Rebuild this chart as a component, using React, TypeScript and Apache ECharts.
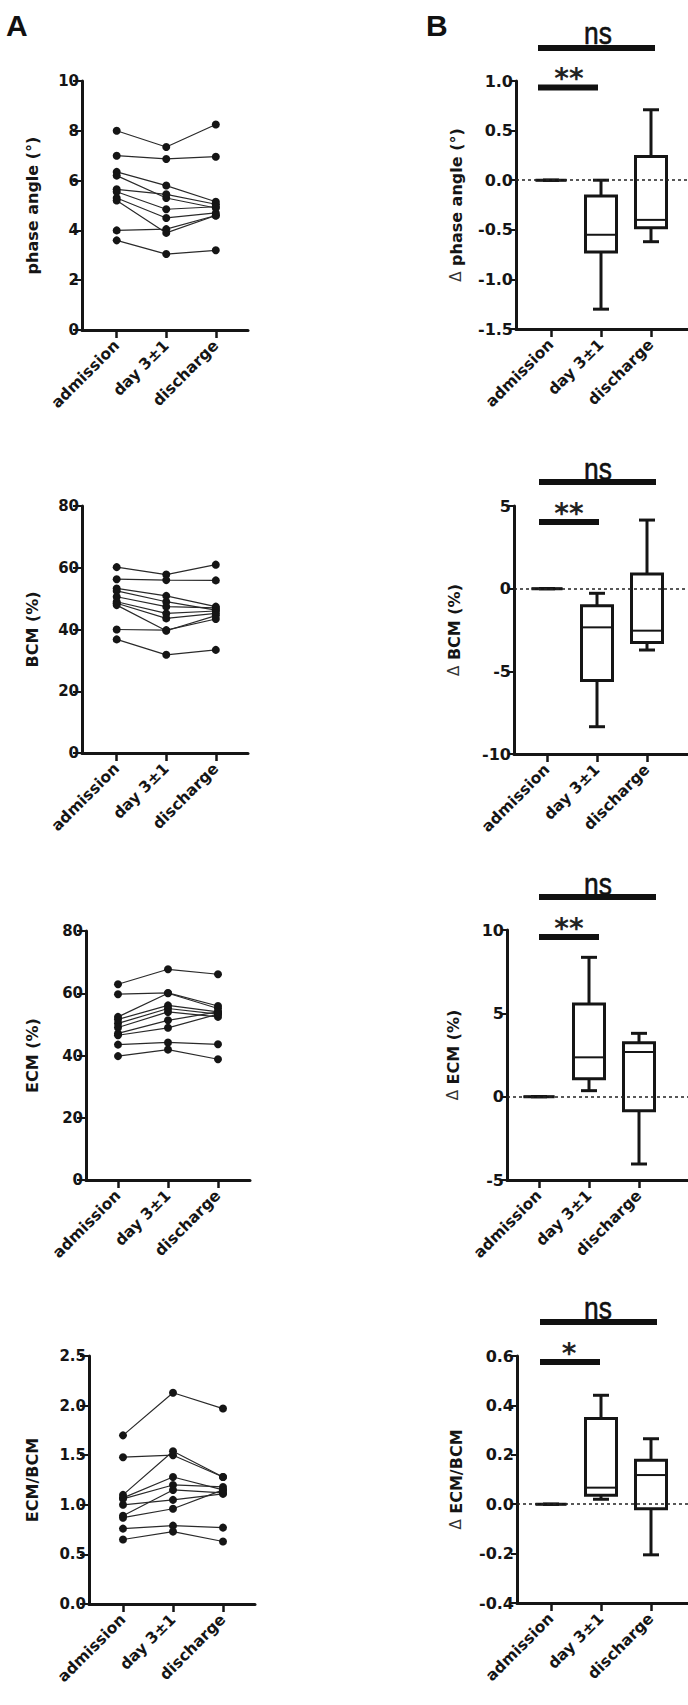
import React, { useEffect, useRef } from "react";
import * as echarts from "echarts";

// ---------- data ----------
const categories = ["admission", "day 3±1", "discharge"];

// Panel A: individual patients (10)
const phaseAdmission = [8.0, 7.0, 6.35, 6.2, 5.65, 5.55, 5.3, 5.2, 4.0, 3.6];
const phaseDay3 = [7.35, 6.87, 5.8, 5.3, 5.45, 4.85, 4.5, 3.9, 4.05, 3.05];
const phaseDischarge = [8.25, 6.96, 5.15, 4.9, 5.05, 4.95, 4.7, 4.6, 4.6, 3.2];

const bcmAdmission = [60.2, 56.3, 53.3, 52.5, 50.6, 49.0, 48.5, 47.9, 40.0, 36.8];
const bcmDay3 = [57.8, 56.0, 50.9, 49.0, 47.4, 45.2, 43.6, 39.6, 39.8, 31.8];
const bcmDischarge = [61.0, 55.9, 47.4, 46.3, 47.0, 46.0, 45.2, 44.5, 43.4, 33.4];

const ecmAdmission = [62.9, 59.7, 52.4, 51.6, 50.3, 49.0, 47.1, 46.5, 43.5, 39.8];
const ecmDay3 = [67.7, 60.1, 60.0, 56.1, 55.1, 54.0, 51.3, 48.9, 44.2, 41.9];
const ecmDischarge = [66.1, 55.9, 55.1, 54.0, 53.3, 52.4, 54.0, 53.3, 43.6, 38.8];

const ratioAdmission = [1.7, 1.48, 1.1, 1.07, 1.06, 1.0, 0.89, 0.87, 0.76, 0.65];
const ratioDay3 = [2.13, 1.5, 1.54, 1.28, 1.2, 1.05, 1.15, 0.96, 0.79, 0.73];
const ratioDischarge = [1.97, 1.28, 1.28, 1.15, 1.18, 1.11, 1.12, 1.15, 0.77, 0.63];

// Panel B: box plots [min, Q1, median, Q3, max]
const dPhaseAdmission = [0, 0, 0, 0, 0];
const dPhaseDay3 = [-1.3, -0.725, -0.55, -0.16, 0.0];
const dPhaseDischarge = [-0.62, -0.48, -0.4, 0.24, 0.71];

const dBcmAdmission = [0, 0, 0, 0, 0];
const dBcmDay3 = [-8.35, -5.56, -2.34, -1.03, -0.28];
const dBcmDischarge = [-3.71, -3.25, -2.54, 0.89, 4.15];

const dEcmAdmission = [0, 0, 0, 0, 0];
const dEcmDay3 = [0.36, 1.08, 2.36, 5.56, 8.36];
const dEcmDischarge = [-4.04, -0.84, 2.68, 3.24, 3.8];

const dRatioAdmission = [0, 0, 0, 0, 0];
const dRatioDay3 = [0.02, 0.036, 0.067, 0.347, 0.441];
const dRatioDischarge = [-0.205, -0.018, 0.118, 0.178, 0.265];

const sigLabels = ["**", "**", "**", "*"];
const nsLabel = "ns";

// ---------- layout ----------
const FONT = "'DejaVu Sans', sans-serif";
const ARIAL = "'Liberation Sans', Arial, sans-serif";
const INK = "#151515";

type Panel = {
  grid: { left: number; top: number; width: number; height: number };
  xMin: number;
  xMax: number;
  yMin: number;
  yMax: number;
  yInt: number;
  dec: number;
  name: string;
  gap: number;
  tickFont: number;
  tickLen: number;
};

const panelsA: Panel[] = [
  { grid: { left: 82, top: 81, width: 166, height: 249 }, xMin: -0.7, xMax: 2.65, yMin: 0, yMax: 10, yInt: 2, dec: 0, name: "phase angle (°)", gap: 42, tickFont: 15, tickLen: 9 },
  { grid: { left: 82, top: 506, width: 166, height: 247 }, xMin: -0.7, xMax: 2.65, yMin: 0, yMax: 80, yInt: 20, dec: 0, name: "BCM (%)", gap: 42, tickFont: 15, tickLen: 9 },
  { grid: { left: 86, top: 931, width: 164, height: 249 }, xMin: -0.64, xMax: 2.64, yMin: 0, yMax: 80, yInt: 20, dec: 0, name: "ECM (%)", gap: 46, tickFont: 15, tickLen: 9 },
  { grid: { left: 89, top: 1356, width: 166, height: 248 }, xMin: -0.68, xMax: 2.64, yMin: 0, yMax: 2.5, yInt: 0.5, dec: 1, name: "ECM/BCM", gap: 49, tickFont: 15, tickLen: 9 },
];
const panelsB: Panel[] = [
  { grid: { left: 516, top: 81, width: 172, height: 248 }, xMin: -0.7, xMax: 2.74, yMin: -1.5, yMax: 1.0, yInt: 0.5, dec: 1, name: "{d|Δ} phase angle (°)", gap: 52, tickFont: 16, tickLen: 6 },
  { grid: { left: 514, top: 506, width: 174, height: 248 }, xMin: -0.66, xMax: 2.82, yMin: -10, yMax: 5, yInt: 5, dec: 0, name: "{d|Δ} BCM (%)", gap: 52, tickFont: 16, tickLen: 6 },
  { grid: { left: 507, top: 930, width: 181, height: 250 }, xMin: -0.64, xMax: 2.98, yMin: -5, yMax: 10, yInt: 5, dec: 0, name: "{d|Δ} ECM (%)", gap: 46, tickFont: 16, tickLen: 6 },
  { grid: { left: 517, top: 1356, width: 171, height: 247 }, xMin: -0.68, xMax: 2.74, yMin: -0.4, yMax: 0.6, yInt: 0.2, dec: 1, name: "{d|Δ} ECM/BCM", gap: 53, tickFont: 16, tickLen: 6 },
];

// significance annotation positions (page pixels)
const sigPos = [
  { nsBarY: 48, nsTextY: 33, starBarY: 87.5, starTextY: 72, x0: 538 },
  { nsBarY: 482, nsTextY: 469, starBarY: 522, starTextY: 507, x0: 539 },
  { nsBarY: 897, nsTextY: 884, starBarY: 937, starTextY: 922, x0: 539 },
  { nsBarY: 1322, nsTextY: 1308, starBarY: 1362, starTextY: 1347, x0: 540 },
];

const seriesA = [
  [phaseAdmission, phaseDay3, phaseDischarge],
  [bcmAdmission, bcmDay3, bcmDischarge],
  [ecmAdmission, ecmDay3, ecmDischarge],
  [ratioAdmission, ratioDay3, ratioDischarge],
];
const seriesB = [
  [dPhaseAdmission, dPhaseDay3, dPhaseDischarge],
  [dBcmAdmission, dBcmDay3, dBcmDischarge],
  [dEcmAdmission, dEcmDay3, dEcmDischarge],
  [dRatioAdmission, dRatioDay3, dRatioDischarge],
];

function buildOption() {
  const panels = [...panelsA, ...panelsB];
  const grid: any[] = [];
  const xAxis: any[] = [];
  const yAxis: any[] = [];
  const series: any[] = [];

  panels.forEach((p, i) => {
    grid.push({ ...p.grid, containLabel: false });
    xAxis.push({
      type: "value",
      gridIndex: i,
      min: p.xMin,
      max: p.xMax,
      axisLine: { show: true, onZero: false, lineStyle: { color: INK, width: 3 } },
      axisTick: { show: true, customValues: [0, 1, 2], length: 8, lineStyle: { color: INK, width: 2.5 } },
      axisLabel: {
        show: true,
        customValues: [0, 1, 2],
        rotate: 45,
        margin: 13,
        formatter: (v: number) => categories[Math.round(v)] ?? "",
        fontFamily: FONT,
        fontWeight: "bold",
        fontSize: 15.5,
        color: INK,
      },
      splitLine: { show: false },
    });
    yAxis.push({
      type: "value",
      gridIndex: i,
      min: p.yMin,
      max: p.yMax,
      interval: p.yInt,
      axisLine: { show: true, onZero: false, lineStyle: { color: INK, width: 3 } },
      axisTick: { show: true, length: p.tickLen, lineStyle: { color: INK, width: 2 } },
      axisLabel: {
        margin: 3,
        fontFamily: FONT,
        fontWeight: "bold",
        fontSize: p.tickFont,
        color: INK,
        formatter: (v: number) => v.toFixed(p.dec),
      },
      splitLine: { show: false },
      name: p.name,
      nameLocation: "middle",
      nameRotate: 90,
      nameGap: p.gap,
      nameTextStyle: {
        fontFamily: FONT,
        fontWeight: "bold",
        fontSize: 16,
        color: INK,
        rich: { d: { fontFamily: FONT, fontWeight: "normal", fontSize: 15, color: "#333" } },
      },
    });
  });

  // Panel A: line per patient
  seriesA.forEach((groups, pi) => {
    const n = groups[0].length;
    for (let s = 0; s < n; s++) {
      series.push({
        type: "line",
        xAxisIndex: pi,
        yAxisIndex: pi,
        data: groups.map((g, ci) => [ci, g[s]]),
        symbol: "circle",
        symbolSize: 8,
        itemStyle: { color: INK },
        lineStyle: { color: "#2a2a2a", width: 1.2 },
        z: 3,
      });
    }
  });

  // Panel B: box plots via custom series
  seriesB.forEach((groups, pi) => {
    const idx = 4 + pi;
    series.push({
      type: "custom",
      xAxisIndex: idx,
      yAxisIndex: idx,
      data: groups.map((g, ci) => [ci, ...g]),
      renderItem: (_params: any, api: any) => {
        const x = api.value(0);
        const pMin = api.coord([x, api.value(1)]);
        const pQ1 = api.coord([x, api.value(2)]);
        const pMed = api.coord([x, api.value(3)]);
        const pQ3 = api.coord([x, api.value(4)]);
        const pMax = api.coord([x, api.value(5)]);
        const cx = pMed[0];
        const hw = 15.5;
        const cw = 8;
        const st = { stroke: INK, lineWidth: 3, fill: "none" };
        return {
          type: "group",
          children: [
            { type: "line", shape: { x1: cx, y1: pMax[1], x2: cx, y2: pQ3[1] }, style: st },
            { type: "line", shape: { x1: cx, y1: pQ1[1], x2: cx, y2: pMin[1] }, style: st },
            { type: "line", shape: { x1: cx - cw, y1: pMax[1], x2: cx + cw, y2: pMax[1] }, style: st },
            { type: "line", shape: { x1: cx - cw, y1: pMin[1], x2: cx + cw, y2: pMin[1] }, style: st },
            { type: "rect", shape: { x: cx - hw, y: pQ3[1], width: hw * 2, height: pQ1[1] - pQ3[1] }, style: st },
            { type: "line", shape: { x1: cx - hw, y1: pMed[1], x2: cx + hw, y2: pMed[1] }, style: { stroke: INK, lineWidth: 2 } },
          ],
        };
      },
      markLine: {
        silent: true,
        symbol: "none",
        label: { show: false },
        lineStyle: { color: "#222", width: 1.5, type: [3, 3] },
        data: [{ yAxis: 0 }],
      },
      z: 3,
    });
  });

  // Graphic annotations: panel letters and significance bars
  const graphic: any[] = [
    { type: "text", left: 6, top: 10, style: { text: "A", fontFamily: ARIAL, fontWeight: "bold", fontSize: 30, fill: "#111" } },
    { type: "text", left: 426, top: 10, style: { text: "B", fontFamily: ARIAL, fontWeight: "bold", fontSize: 30, fill: "#111" } },
  ];
  sigPos.forEach((s, i) => {
    graphic.push({ type: "rect", shape: { x: s.x0, y: s.nsBarY - 3, width: 117, height: 6 }, style: { fill: "#111" } });
    graphic.push({ type: "rect", shape: { x: s.x0, y: s.starBarY - 3, width: 60, height: 6 }, style: { fill: "#111" } });
    graphic.push({
      type: "text",
      x: 598,
      y: s.nsTextY,
      scaleX: 0.85,
      originX: 0,
      style: {
        text: nsLabel,
        fontFamily: ARIAL,
        fontSize: 31,
        fill: "#111",
        align: "center",
        verticalAlign: "middle",
        stroke: "#111",
        lineWidth: 0.6,
      },
    });
    graphic.push({
      type: "text",
      x: 569,
      y: s.starTextY + 6,
      style: {
        text: sigLabels[i],
        fontFamily: FONT,
        fontWeight: "bold",
        fontSize: 28,
        fill: "#222",
        align: "center",
        verticalAlign: "middle",
      },
    });
  });

  return {
    animation: false,
    backgroundColor: "#ffffff",
    grid,
    xAxis,
    yAxis,
    series,
    graphic,
  };
}

export default function App() {
  const ref = useRef<HTMLDivElement>(null);
  useEffect(() => {
    document.body.style.margin = "0";
    if (!ref.current) return;
    const chart = echarts.init(ref.current, undefined, { renderer: "svg" });
    chart.setOption(buildOption() as any);
    return () => chart.dispose();
  }, []);
  return <div ref={ref} style={{ width: 688, height: 1705, background: "#fff" }} />;
}
